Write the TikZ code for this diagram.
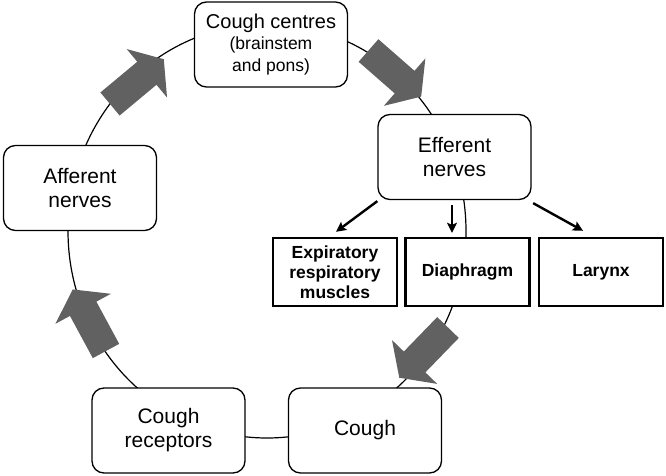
\documentclass[tikz,border=0pt]{standalone}
\usepackage{fontspec}
\setmainfont{Liberation Sans}
\usetikzlibrary{arrows.meta,calc}
\newcommand{\bigarrowat}[3]{%
  \begin{scope}[shift={(#1,#2)},rotate=#3]
    \fill[bigarrow] (0,-15)--(48,-15)--(48,-31.5)--(70,0)--(48,31.5)--(48,15)--(0,15)--cycle;
  \end{scope}}
\begin{document}
\begin{tikzpicture}[x=1pt,y=-1pt,
  rbox/.style={draw=black, line width=1.3pt, fill=white, rounded corners=12pt,
    minimum width=153pt, minimum height=85pt, inner sep=0pt, align=center,
    font=\fontsize{21}{24}\selectfont},
  sbox/.style={draw=black, line width=2.4pt, fill=white, minimum width=124pt,
    minimum height=68pt, inner sep=0pt, align=center,
    font=\bfseries\fontsize{17.5}{20}\selectfont},
  thinarrow/.style={line width=2.4pt, -{Stealth[length=10pt,width=10pt,inset=2pt]}},
  ring/.style={line width=1.2pt},
  bigarrow/.style={fill=black!62}]
\useasboundingbox (0,0) rectangle (666,476);
\fill[white] (0,0) rectangle (666,476);
% cycle line
\draw[ring] (267,231) ellipse [x radius=199, y radius=207];
% big grey arrows
\bigarrowat{110}{104}{39.8}
\bigarrowat{368.5}{50.5}{-41.2}
\bigarrowat{448}{327.5}{-134.1}
\bigarrowat{106}{351}{118.4}
% boxes
\node[rbox, font=\fontsize{17.5}{21.5}\selectfont] (cen) at (271,44.5)
  {{\fontsize{20}{22}\selectfont Cough centres}\\(brainstem\\and pons)};
\node[rbox] (eff) at (454.5,157) {Efferent\\nerves};
\node[rbox] (aff) at (80,188) {Afferent\\nerves};
\node[rbox] (rec) at (168.5,430.5) {Cough\\receptors};
\node[rbox] (cou) at (365,430.5) {Cough};
\node[sbox] (exp) at (335,272) {Expiratory\\respiratory\\muscles};
\node[sbox] (dia) at (467.5,272) {Diaphragm};
\node[sbox] (lar) at (601,272) {Larynx};
% thin arrows
\draw[thinarrow] ($(eff.south west)+(0,1)$) -- ($(exp.north)+(1,-5)$);
\draw[thinarrow] ($(eff.south)+(-2.5,5)$) -- ($(eff.south |- dia.north)+(-2.5,-4)$);
\draw[thinarrow] ($(eff.south east)+(1.5,3)$) -- ($(lar.north)+(-18,-6)$);
\end{tikzpicture}
\end{document}
